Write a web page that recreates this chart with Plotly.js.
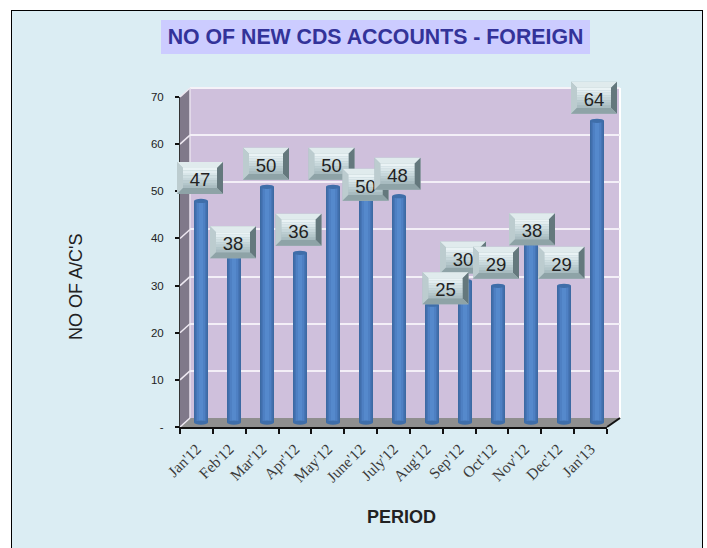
<!DOCTYPE html>
<html><head><meta charset="utf-8">
<script src="https://cdn.plot.ly/plotly-3.0.1.min.js"></script>
<style>html,body{margin:0;padding:0;background:#fff}#c{width:707px;height:548px}</style>
</head><body><div id="c"></div>
<script>
const periods = ["Jan'12","Feb'12","Mar'12","Apr'12","May'12","June'12","July'12","Aug'12","Sep'12","Oct'12","Nov'12","Dec'12","Jan'13"];
const accounts = [47,38,50,36,50,50,48,25,30,29,38,29,64];
const yTickVals = [0,10,20,30,40,50,60,70];
const yTickText = ["-","10","20","30","40","50","60","70"];
const labelDx = [-1,-1,-1,-1.5,-1.5,-0.5,-1.5,13.5,-2,-2,1,-2.5,-3];
const labelDy = [-23,-1,-23,-23,-23,-2,-22.5,-16.5,-23.5,-23,-14,-23,-23];
const labelOrder = [0,1,2,3,4,5,6,8,7,9,10,11,12];

const W=707,H=548;
const dx=(a,b)=>[a/W,b/W], dy=(top,bot)=>[1-bot/H,1-top/H];
const F=427, unit=4.714, MID=422.5, STEP=33;
const shapes=[];
const paperRect=(x0,y0,x1,y1,fill)=>shapes.push({type:'rect',xref:'paper',yref:'paper',x0:x0/W,x1:x1/W,y0:1-y0/H,y1:1-y1/H,fillcolor:fill,line:{width:0},layer:'below'});
const paperPath=(pts,fill)=>shapes.push({type:'path',xref:'paper',yref:'paper',path:'M'+pts.map(p=>(p[0]/W)+','+(1-p[1]/H)).join('L')+'Z',fillcolor:fill,line:{width:0},layer:'below'});
const paperLine=(x0,y0,x1,y1,c,w)=>shapes.push({type:'line',xref:'paper',yref:'paper',x0:x0/W,x1:x1/W,y0:1-y0/H,y1:1-y1/H,line:{color:c,width:w},layer:'below'});

// frame and chart area
paperRect(0,0,W,H,'#ffffff');
paperRect(11,10,703,H,'#000000');
paperRect(12,11,702,H,'#dbedf3');
// title plate
paperRect(161,20,590,54,'#ccccff');
// 3D walls
paperPath([[190,88],[620,88],[620,418],[190,418]],'#cfc0dc');
paperPath([[180,97],[190,88],[190,418],[180,427]],'#80798a');
paperPath([[180,427],[190,418],[620,418],[607,427]],'#8f8f8f');
paperLine(190,88,620,88,'#f5f2f8',2);
paperLine(620,88,620,418,'#ffffff',2);
paperLine(190,88,190,418,'#e8e2ee',1.5);
yTickVals.forEach(v=>paperLine(180,F-v*unit,190,F-9-v*unit,'#eee9f2',1.5));
paperLine(607,427,620,418,'#111111',2);

// bar caps
const barW=14/STEP;
accounts.forEach((v,i)=>{
  [v,0].forEach(t=>shapes.push({type:'circle',xref:'x3',yref:'y3',x0:i-barW/2,x1:i+barW/2,y0:t-0.45,y1:t+0.45,fillcolor:'#3f6ea9',line:{width:0},layer:'above'}));
});

// bevelled value labels: corners given in px relative to the bar top, converted to axis units
const BW=23,BH=16,B=6;
const bands=['#eaf3f5','#e2edf0','#d9e6e9','#d0dfe2','#c7d7db','#bdced2','#b3c6ca','#a9bcc1'];
labelOrder.forEach(i=>{
  const ox=labelDx[i], oy=-labelDy[i], v=accounts[i];
  const X=p=>i+(p+ox)/STEP, Y=p=>v+(p+oy)/unit;
  const base={xref:'x3',yref:'y3',layer:'above',line:{width:0}};
  const poly=(pts,fill)=>shapes.push(Object.assign({},base,{type:'path',path:'M'+pts.map(p=>X(p[0])+','+Y(p[1])).join('L')+'Z',fillcolor:fill}));
  poly([[-BW,-BH],[BW,-BH],[BW,BH],[-BW,BH]],'#a9bcc0');
  poly([[-BW,BH],[BW,BH],[BW-B,BH-B],[-BW+B,BH-B]],'#e0ebed');
  poly([[-BW,BH],[-BW+B,BH-B],[-BW+B,-BH+B],[-BW,-BH]],'#bccccf');
  poly([[BW,BH],[BW-B,BH-B],[BW-B,-BH+B],[BW,-BH]],'#64787d');
  poly([[-BW,-BH],[-BW+B,-BH+B],[BW-B,-BH+B],[BW,-BH]],'#8ea3a7');
  const innerH=2*(BH-B);
  bands.forEach((c,k)=>{
    const top=BH-B-k*innerH/bands.length, bot=top-innerH/bands.length;
    poly([[-BW+B,top],[BW-B,top],[BW-B,bot],[-BW+B,bot]],c);
  });
  shapes.push(Object.assign({},base,{type:'rect',x0:X(-BW+B),x1:X(BW-B),y0:Y(-BH+B),y1:Y(BH-B),fillcolor:'rgba(0,0,0,0)',
    label:{text:String(v),textposition:'middle center',font:{family:'Liberation Sans, Arial',size:18.5,color:'#222222'}}}));
});

const barLayer=(w,c)=>({type:'bar',x:periods,y:accounts,width:w,marker:{color:c,line:{width:0}},xaxis:'x3',yaxis:'y3',hoverinfo:'skip',showlegend:false});
const traces=[
  {type:'scatter',mode:'markers',x:periods,y:accounts,marker:{opacity:0},xaxis:'x',yaxis:'y',hoverinfo:'skip',showlegend:false},
  {type:'scatter',mode:'markers',x:[0],y:[0],marker:{opacity:0},xaxis:'x2',yaxis:'y2',hoverinfo:'skip',showlegend:false},
  barLayer(14/STEP,'#3c6aa3'),
  barLayer(11/STEP,'#4675b6'),
  barLayer(8/STEP,'#4e80c3'),
  barLayer(4/STEP,'#5589cc')
];

const layout={
  width:W,height:H,margin:{l:0,r:0,t:0,b:0},paper_bgcolor:'rgba(0,0,0,0)',plot_bgcolor:'rgba(0,0,0,0)',
  showlegend:false,barmode:'overlay',
  title:{text:'NO OF NEW CDS ACCOUNTS - FOREIGN',font:{family:'Liberation Sans, Arial',size:21.3,color:'#333399',weight:'bold'},x:375.5/W,xanchor:'center',y:1-37/H,yanchor:'middle',xref:'paper',yref:'paper'},
  annotations:[
    {text:'PERIOD',xref:'paper',yref:'paper',x:401/W,y:1-517/H,xanchor:'center',yanchor:'middle',showarrow:false,font:{family:'Liberation Sans, Arial',size:18,color:'#222222',weight:'bold'}},
    {text:"NO OF A/C'S",xref:'paper',yref:'paper',x:76/W,y:1-287/H,xanchor:'center',yanchor:'middle',textangle:-90,showarrow:false,font:{family:'Liberation Sans, Arial',size:18,color:'#222222'}}
  ],
  xaxis:{domain:dx(180,607),type:'category',categoryorder:'array',categoryarray:periods,range:[-0.5,12.5],anchor:'y',
    showline:true,linecolor:'#111111',linewidth:2,ticks:'outside',tickson:'boundaries',ticklen:5,tickwidth:2,tickcolor:'#111111',ticklabelstandoff:5,
    tickangle:-45,tickfont:{family:'Liberation Serif, Times New Roman',size:15.5,color:'#3a3a3a'},showgrid:false,zeroline:false},
  yaxis:{domain:dy(F-70*unit,F),range:[0,70],anchor:'x',tickvals:yTickVals,ticktext:yTickText,
    showline:true,linecolor:'#333333',linewidth:1,ticks:'outside',ticklen:4,tickwidth:2,tickcolor:'#111111',ticklabelstandoff:9,
    tickfont:{family:'Liberation Sans, Arial',size:11.5,color:'#222222'},showgrid:false,zeroline:false},
  xaxis2:{domain:dx(190,620),range:[0,1],anchor:'y2',visible:false},
  yaxis2:{domain:dy(418-70*unit,418),range:[0,70],anchor:'x2',tickvals:yTickVals,showticklabels:false,ticks:'',showline:false,zeroline:false,
    showgrid:true,gridcolor:'#f3eff7',gridwidth:2},
  xaxis3:{domain:dx(201-1.5*STEP,201+13.5*STEP),type:'category',categoryorder:'array',categoryarray:periods,range:[-1.5,13.5],anchor:'y3',visible:false},
  yaxis3:{domain:dy(MID-76*unit,MID+2*unit),range:[-2,76],anchor:'x3',visible:false}
};
Plotly.newPlot('c',traces,Object.assign(layout,{shapes}),{displayModeBar:false,staticPlot:true});
</script></body></html>
